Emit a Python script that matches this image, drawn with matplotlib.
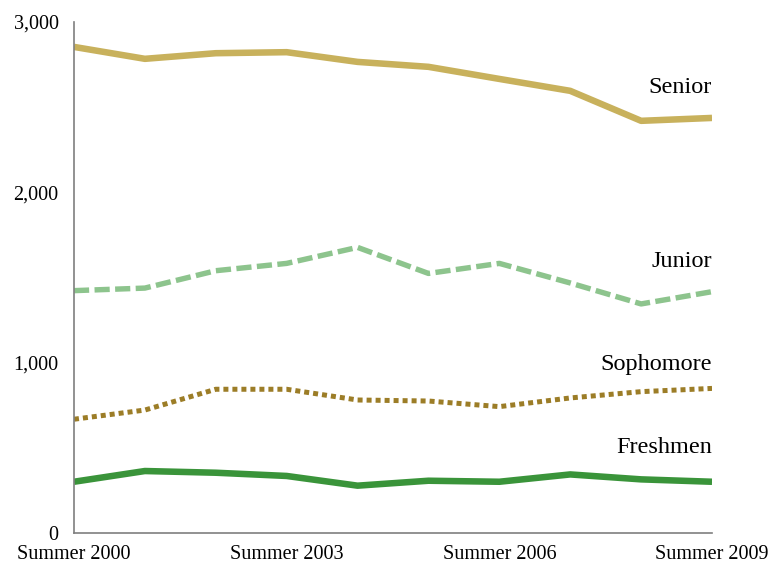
import matplotlib.pyplot as plt
from matplotlib.ticker import FuncFormatter

# ------ DATA
years = ['Summer 2000', 'Summer 2001', 'Summer 2002', 'Summer 2003', 'Summer 2004',
         'Summer 2005', 'Summer 2006', 'Summer 2007', 'Summer 2008', 'Summer 2009']
senior = [2854, 2784, 2817, 2823, 2766, 2737, 2666, 2596, 2420, 2437]
junior = [1423, 1438, 1540, 1583, 1677, 1524, 1583, 1468, 1345, 1417]
sophomore = [668, 722, 844, 844, 781, 775, 742, 793, 830, 849]
freshmen = [301, 364, 354, 335, 278, 307, 301, 344, 315, 301]
tick_labels = ['Summer 2000', 'Summer 2003', 'Summer 2006', 'Summer 2009']

plt.rcParams['font.family'] = ['Liberation Serif', 'DejaVu Serif']

fig = plt.figure(figsize=(7.69, 5.65), dpi=100)
ax = fig.add_axes([0.0962, 0.0566, 0.8297, 0.9044])

x = list(range(len(years)))
ax.plot(x, senior, color='#C8B15C', lw=4.7, solid_capstyle='butt')
ax.plot(x, junior, color='#8DC48D', lw=3.9, dashes=(2.8, 1.0), dash_capstyle='butt')
ax.plot(x, sophomore, color='#9C7D27', lw=3.6, dashes=(1.0, 0.8), dash_capstyle='butt')
ax.plot(x, freshmen, color='#3A943A', lw=4.7, solid_capstyle='butt')

# series labels at right end
ax.text(x[-1], 2615, 'Senior', ha='right', va='center', fontsize=17.5)
ax.text(x[-1], 1595, 'Junior', ha='right', va='center', fontsize=17.5)
ax.text(x[-1], 990, 'Sophomore', ha='right', va='center', fontsize=17.5)
ax.text(x[-1], 505, 'Freshmen', ha='right', va='center', fontsize=17.5)

ax.set_xlim(0, len(years) - 1)
ax.set_ylim(0, 3000)
ax.set_yticks([0, 1000, 2000, 3000])
ax.yaxis.set_major_formatter(FuncFormatter(lambda v, p: f'{int(v):,}'))
ax.set_xticks([years.index(t) for t in tick_labels])
ax.set_xticklabels(tick_labels)
ax.tick_params(axis='both', length=0, labelsize=14.5)
ax.tick_params(axis='y', pad=11)
ax.tick_params(axis='x', pad=8.5)

for side in ['top', 'right']:
    ax.spines[side].set_visible(False)
for side in ['left', 'bottom']:
    ax.spines[side].set_color('#7f7f7f')
    ax.spines[side].set_linewidth(1.2)

fig.savefig('out.png', dpi=100)
